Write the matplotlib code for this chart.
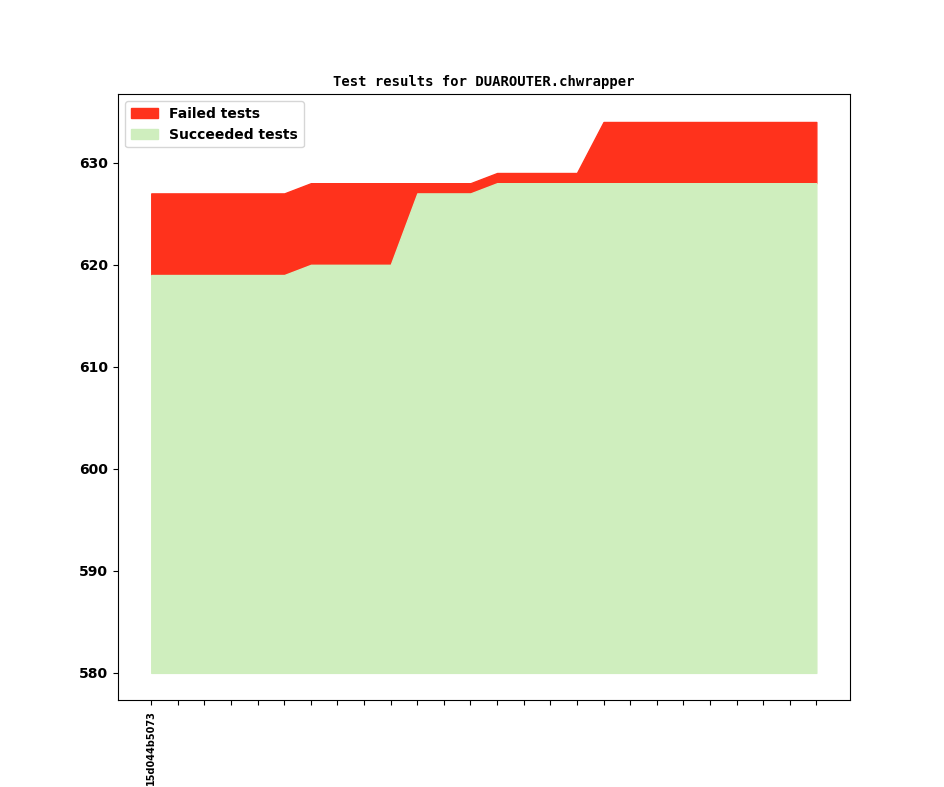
import matplotlib
matplotlib.use("Agg")
import matplotlib.pyplot as plt

# one entry per revision, only the first one gets a label
revisions = ["15d044b5073"] + [""] * 25
succeeded = [619, 619, 619, 619, 619, 619, 620, 620, 620, 620, 627, 627, 627,
             628, 628, 628, 628, 628, 628, 628, 628, 628, 628, 628, 628, 628]
total = [627, 627, 627, 627, 627, 627, 628, 628, 628, 628, 628, 628, 628,
         629, 629, 629, 629, 634, 634, 634, 634, 634, 634, 634, 634, 634]
baseline = 580

plt.rcParams['font.weight'] = 'bold'
fig = plt.figure(figsize=(9.44, 7.87), dpi=100)
ax = fig.add_subplot(111)

x = list(range(len(revisions)))
ax.fill_between(x, succeeded, total, color='#ff321c', label='Failed tests')
ax.fill_between(x, baseline, succeeded, color='#cfeebe', label='Succeeded tests')

ax.set_xticks(x)
ax.set_xticklabels(revisions, rotation=90, fontsize=7, fontweight='bold')
ax.set_title("Test results for DUAROUTER.chwrapper", family='DejaVu Sans Mono',
             fontweight='bold', fontsize=10)
ax.legend(loc='upper left', prop={'weight': 'bold'})

fig.savefig("out.png", dpi=100)
